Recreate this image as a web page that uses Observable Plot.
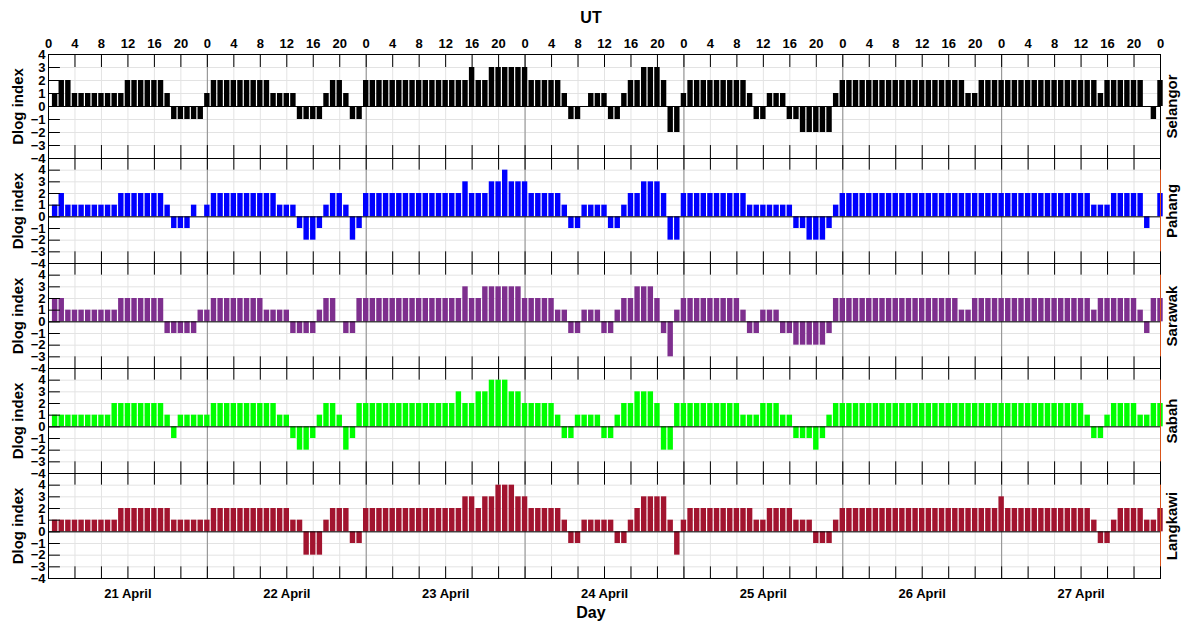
<!DOCTYPE html>
<html><head><meta charset="utf-8">
<script src="https://cdn.jsdelivr.net/npm/d3@7"></script>
<script src="https://cdn.jsdelivr.net/npm/@observablehq/plot@0.6"></script>
<style>
body{margin:0;background:#fff;font-family:"Liberation Sans",Arial,sans-serif;color:#000;width:1182px;overflow:hidden}
#ut{height:28px;line-height:36px;text-align:center;font-weight:bold;font-size:16px;overflow:visible}
#day{height:15px;line-height:14px;text-align:center;font-weight:bold;font-size:16px}
#chart svg{display:block}
</style></head><body>
<div id="ut">UT</div>
<div id="chart"></div>
<div id="day">Day</div>
<script>
// ---- data (hourly Dlog index, hours 1..168 starting 21 April 00 UT) ----
const stations = ["Selangor", "Pahang", "Sarawak", "Sabah", "Langkawi"];
const stationColors = ["#000000", "#0000ff", "#7e2f8e", "#00ff00", "#a2142f"];
const dayLabels = ["21 April", "22 April", "23 April", "24 April", "25 April", "26 April", "27 April"];
const dayCenters = [12, 36, 60, 84, 108, 132, 156];
const dayBounds = [24, 48, 72, 96, 120, 144];
const hourTicks = [0,4,8,12,16,20,24,28,32,36,40,44,48,52,56,60,64,68,72,76,80,84,88,92,96,100,104,108,112,116,120,124,128,132,136,140,144,148,152,156,160,164,168];
const yTicks = [-4,-3,-2,-1,0,1,2,3,4];
const yLimits = [[-4, 4], [-4, 5], [-4, 5], [-4, 5], [-4, 5]];
const rightEdgeColors = ["#000000", "#d95319", "#d95319", "#d95319", "#d95319"];

const selangor = [
  1,2,2,1,1,1,1,1,1,1,1,2,2,2,2,2,2,1,-1,-1,-1,-1,-1,1,
  2,2,2,2,2,2,2,2,2,1,1,1,1,-1,-1,-1,-1,1,2,2,1,-1,-1,2,
  2,2,2,2,2,2,2,2,2,2,2,2,2,2,2,3,2,2,3,3,3,3,3,3,
  2,2,2,2,2,1,-1,-1,0,1,1,1,-1,-1,1,2,2,3,3,3,2,-2,-2,1,
  2,2,2,2,2,2,2,2,2,1,-1,-1,1,1,1,-1,-1,-2,-2,-2,-2,-2,1,2,
  2,2,2,2,2,2,2,2,2,2,2,2,2,2,2,2,2,2,1,1,2,2,2,2,
  2,2,2,2,2,2,2,2,2,2,2,2,2,2,1,2,2,2,2,2,2,0,-1,2
];
const pahang = [
  1,2,1,1,1,1,1,1,1,1,2,2,2,2,2,2,2,1,-1,-1,-1,1,0,1,
  2,2,2,2,2,2,2,2,2,2,1,1,1,-1,-2,-2,-1,1,2,2,1,-2,-1,2,
  2,2,2,2,2,2,2,2,2,2,2,2,2,2,3,2,2,2,3,3,4,3,3,3,
  2,2,2,2,2,1,-1,-1,1,1,1,1,-1,-1,1,2,2,3,3,3,2,-2,-2,2,
  2,2,2,2,2,2,2,2,2,1,1,1,1,1,1,1,-1,-1,-2,-2,-2,-1,1,2,
  2,2,2,2,2,2,2,2,2,2,2,2,2,2,2,2,2,2,2,2,2,2,2,2,
  2,2,2,2,2,2,2,2,2,2,2,2,2,1,1,1,2,2,2,2,2,-1,0,2
];
const sarawak = [
  2,2,1,1,1,1,1,1,1,1,2,2,2,2,2,2,2,-1,-1,-1,-1,-1,1,1,
  2,2,2,2,2,2,2,2,1,1,1,1,-1,-1,-1,-1,1,2,2,0,-1,-1,2,2,
  2,2,2,2,2,2,2,2,2,2,2,2,2,2,3,2,2,3,3,3,3,3,3,2,
  2,2,2,2,1,1,-1,-1,1,1,1,-1,-1,1,2,2,3,3,3,2,-1,-3,1,2,
  2,2,2,2,2,2,2,2,1,-1,-1,1,1,1,-1,-1,-2,-2,-2,-2,-2,-1,2,2,
  2,2,2,2,2,2,2,2,2,2,2,2,2,2,2,2,2,1,1,2,2,2,2,2,
  2,2,2,2,2,2,2,2,2,2,2,2,2,1,2,2,2,2,2,2,1,-1,2,2
];
const sabah = [
  1,1,1,1,1,1,1,1,1,2,2,2,2,2,2,2,2,1,-1,1,1,1,1,1,
  2,2,2,2,2,2,2,2,2,2,1,1,-1,-2,-2,-1,1,2,2,1,-2,-1,2,2,
  2,2,2,2,2,2,2,2,2,2,2,2,2,3,2,2,3,3,4,4,4,3,3,2,
  2,2,2,2,1,-1,-1,1,1,1,1,-1,-1,1,2,2,3,3,3,2,-2,-2,2,2,
  2,2,2,2,2,2,2,2,1,1,1,2,2,2,1,1,-1,-1,-1,-2,-1,1,2,2,
  2,2,2,2,2,2,2,2,2,2,2,2,2,2,2,2,2,2,2,2,2,2,2,2,
  2,2,2,2,2,2,2,2,2,2,2,2,1,-1,-1,1,2,2,2,2,1,1,2,2
];
const langkawi = [
  1,1,1,1,1,1,1,1,1,1,2,2,2,2,2,2,2,2,1,1,1,1,1,1,
  2,2,2,2,2,2,2,2,2,2,2,2,1,1,-2,-2,-2,1,2,2,2,-1,-1,2,
  2,2,2,2,2,2,2,2,2,2,2,2,2,2,3,3,2,3,3,4,4,4,3,3,
  2,2,2,2,2,1,-1,-1,1,1,1,1,1,-1,-1,1,2,3,3,3,3,1,-2,1,
  2,2,2,2,2,2,2,2,2,2,1,1,2,2,2,2,1,1,1,-1,-1,-1,1,2,
  2,2,2,2,2,2,2,2,2,2,2,2,2,2,2,2,2,2,2,2,2,2,2,3,
  2,2,2,2,2,2,2,2,2,2,2,2,2,1,-1,-1,1,2,2,2,2,1,1,2
];

const series = [selangor, pahang, sarawak, sabah, langkawi];
const font = "Liberation Sans, Arial, sans-serif";

function panel(i) {
  const first = i === 0, last = i === stations.length - 1;
  const [yBot, yTop] = yLimits[i];
  const mt = first ? 26 : 0, mb = last ? 28 : 0;
  const inner = first ? 104 : 105;
  const rows = series[i].map((v, j) => ({hour: j + 1, value: v}));
  const marks = [
    Plot.gridY(yTicks, {stroke: "#e3e3e3", strokeOpacity: 1}),
    Plot.gridX(hourTicks, {stroke: "#e3e3e3", strokeOpacity: 1}),
    Plot.gridX(dayBounds, {stroke: "#8c8c8c", strokeOpacity: 1}),
    Plot.rectY(rows, {x1: d => d.hour - 0.5, x2: d => d.hour + 0.5, y1: 0, y2: "value", fill: stationColors[i], insetLeft: 0.6, insetRight: 0.6}),
    Plot.ruleY([0], {stroke: "#000", strokeWidth: 1}),
    Plot.frame({stroke: "#000"}),
    Plot.ruleX([168], {y1: yBot, y2: yTop, stroke: rightEdgeColors[i]}),
    Plot.ruleX(hourTicks, {x: d => d, y1: yTop, y2: yTop - 1, stroke: "#000"}),
    Plot.ruleX(hourTicks, {x: d => d, y1: yBot, y2: yBot + 1, stroke: "#000"}),
    Plot.ruleY(yTicks, {y: d => d, x1: 0, x2: 1.8, stroke: "#000"}),
    Plot.axisY(yTicks, {anchor: "left", tickSize: 0, tickPadding: 3, label: null, fontSize: 13}),
    Plot.text([stations[i]], {text: d => d, frameAnchor: "right", textAnchor: "middle", rotate: -90, dx: 12, fontSize: 15, fontWeight: "bold"}),
    Plot.text(["Dlog index"], {text: d => d, frameAnchor: "left", textAnchor: "middle", rotate: -90, dx: -30, fontSize: 15, fontWeight: "bold"})
  ];
  if (first) marks.push(Plot.axisX(hourTicks, {anchor: "top", tickSize: 0, tickPadding: 7, tickFormat: d => String(d % 24), label: null, fontSize: 13}));
  if (last) marks.push(Plot.axisX(dayCenters, {anchor: "bottom", tickSize: 0, tickPadding: 10, tickFormat: d => dayLabels[dayCenters.indexOf(d)], label: null, fontSize: 13}));
  return Plot.plot({
    width: 1182,
    height: inner + mt + mb,
    marginLeft: 48,
    marginRight: 22,
    marginTop: mt,
    marginBottom: mb,
    style: {fontFamily: font, fontWeight: "bold", fontSize: "13px", color: "#000", background: "transparent", overflow: "visible"},
    x: {domain: [0, 168], axis: null},
    y: {domain: [yBot, yTop], axis: null},
    marks
  });
}
const host = document.getElementById("chart");
stations.forEach((s, i) => host.appendChild(panel(i)));
</script>
</body></html>
